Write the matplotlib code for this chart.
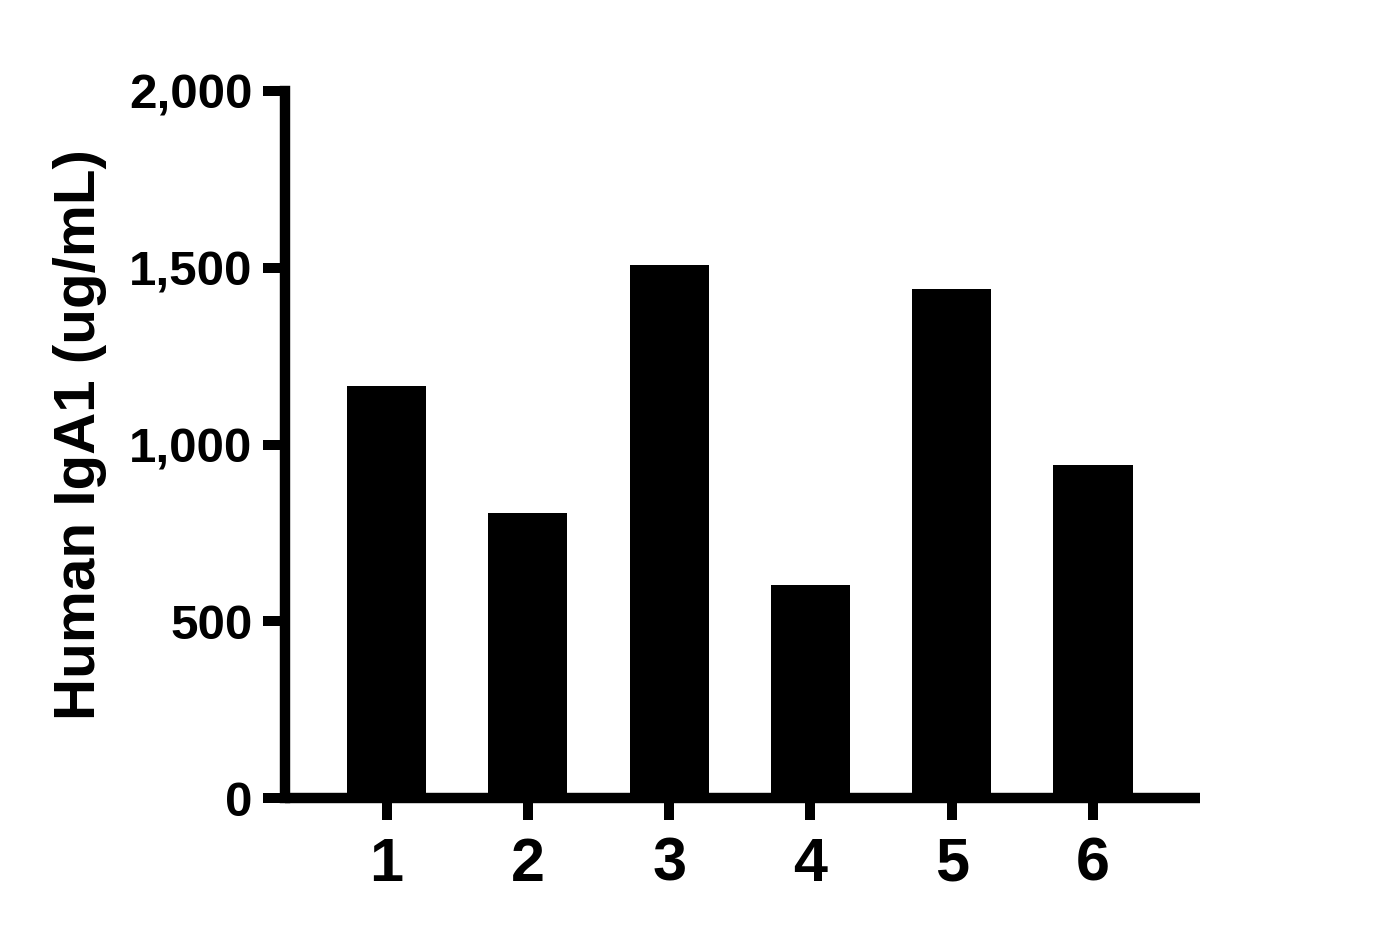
import matplotlib
matplotlib.use("Agg")
import matplotlib.pyplot as plt
from matplotlib.ticker import FuncFormatter

categories = ["1", "2", "3", "4", "5", "6"]
values = [1165, 806, 1508, 603, 1441, 943]
y_ticks = [0, 500, 1000, 1500, 2000]
y_label = "Human IgA1 (ug/mL)"

plt.rcParams['font.family'] = ['Liberation Sans', 'DejaVu Sans']
plt.rcParams['font.weight'] = 'bold'

fig = plt.figure(figsize=(13.76, 9.38), dpi=100)
ax = fig.add_axes([284.5/1376, (938-798)/938, (1200-284.5)/1376, (798-91)/938])

x = list(range(1, len(categories) + 1))
ax.bar(x, values, width=0.56, color='black', zorder=1)

ax.set_xlim(0.278, 6.757)
ax.set_ylim(0, 2000)
ax.set_xticks(x)
ax.set_xticklabels(categories, fontsize=44, fontweight='bold')
ax.set_yticks(y_ticks)
ax.yaxis.set_major_formatter(FuncFormatter(lambda v, p: f"{int(v):,}"))

for s in ['top', 'right']:
    ax.spines[s].set_visible(False)
for s in ['left', 'bottom']:
    ax.spines[s].set_linewidth(7.5)
    ax.spines[s].set_zorder(3)
ax.spines['left'].set_capstyle('projecting')
ax.spines['bottom'].set_capstyle('butt')

ax.tick_params(axis='both', direction='out', length=16, width=7.2, color='black')
ax.tick_params(axis='x', pad=12)
ax.tick_params(axis='y', pad=7)
for lbl in ax.get_yticklabels():
    lbl.set_fontsize(35.5)
    lbl.set_fontweight('bold')

ax.set_ylabel(y_label, fontsize=42, fontweight='bold', labelpad=16)
ax.yaxis.label.set_y(0.5 + 10/707)

fig.savefig("out.png", dpi=100, facecolor='white')
